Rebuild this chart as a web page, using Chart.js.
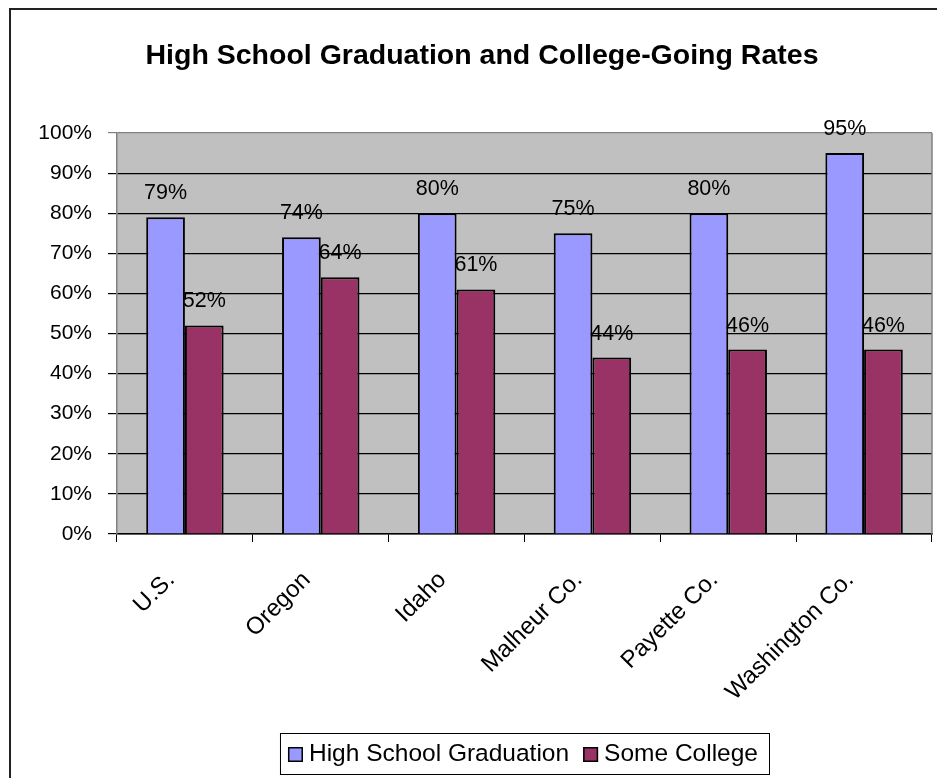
<!DOCTYPE html>
<html>
<head>
<meta charset="utf-8">
<script src="https://cdn.jsdelivr.net/npm/chart.js@4.4.0/dist/chart.umd.min.js"></script>
<style>
  html, body { margin: 0; padding: 0; background: #fff; }
  #wrap { width: 937px; height: 778px; }
</style>
</head>
<body>
<div id="wrap"><canvas id="myChart" width="937" height="778"></canvas></div>
<script>
// chart values
const categories = ['U.S.', 'Oregon', 'Idaho', 'Malheur Co.', 'Payette Co.', 'Washington Co.'];
const highSchool = [79, 74, 80, 75, 80, 95];
const someCollege = [52, 64, 61, 44, 46, 46];
const yTicks = [0, 10, 20, 30, 40, 50, 60, 70, 80, 90, 100];
const chartTitle = 'High School Graduation and College-Going Rates';

const FONT = "'Liberation Sans', Arial, sans-serif";

// grey plot area + outer frame
const backdrop = {
    id: 'backdrop',
    beforeDraw(chart) {
        const {ctx, chartArea: a} = chart;
        ctx.save();
        ctx.fillStyle = '#c0c0c0';
        ctx.fillRect(a.left, a.top, a.right - a.left, a.bottom - a.top);
        ctx.restore();
    },
    afterDraw(chart) {
        const {ctx, chartArea: a} = chart;
        ctx.save();
        // right edge of plot area
        ctx.strokeStyle = '#808080';
        ctx.lineWidth = 1.5;
        ctx.beginPath();
        ctx.moveTo(a.right, a.top);
        ctx.lineTo(a.right, a.bottom);
        ctx.stroke();
        // frame round the whole picture
        ctx.strokeStyle = '#222';
        ctx.lineWidth = 2;
        ctx.strokeRect(10, 9, 1000, 1000);
        // title
        ctx.fillStyle = '#000';
        ctx.font = 'bold 28.5px ' + FONT;
        ctx.textAlign = 'center';
        ctx.textBaseline = 'middle';
        ctx.fillText(chartTitle, 482, 56);
        ctx.restore();
    }
};

// percent labels over the bars
const barLabels = {
    id: 'barLabels',
    afterDatasetsDraw(chart) {
        const ctx = chart.ctx;
        ctx.save();
        ctx.fillStyle = '#000';
        ctx.font = '21.5px ' + FONT;
        ctx.textAlign = 'center';
        ctx.textBaseline = 'alphabetic';
        chart.data.datasets.forEach((ds, i) => {
            chart.getDatasetMeta(i).data.forEach((bar, j) => {
                ctx.fillText(ds.data[j] + '%', bar.x, bar.y - 18);
            });
        });
        ctx.restore();
    }
};

// boxed legend at the bottom
const boxLegend = {
    id: 'boxLegend',
    afterDraw(chart) {
        const ctx = chart.ctx;
        ctx.save();
        ctx.font = '24.5px ' + FONT;
        ctx.textBaseline = 'middle';
        const sq = 15, gapSq = 6, gapItem = 14, padL = 8, padR = 11;
        const items = chart.data.datasets.map(ds => ({
            label: ds.label, color: ds.backgroundColor, w: ctx.measureText(ds.label).width
        }));
        let total = padL + padR;
        items.forEach((it, i) => { total += sq + gapSq + it.w + (i ? gapItem : 0); });
        const right = 769, top = 733, bottom = 774;
        const left = right - total;
        const midY = (top + bottom) / 2 + 1;
        ctx.fillStyle = '#fff';
        ctx.fillRect(left, top, total, bottom - top);
        ctx.strokeStyle = '#000';
        ctx.lineWidth = 1;
        ctx.strokeRect(left + 0.5, top + 0.5, total, bottom - top);
        let x = left + padL;
        items.forEach((it, i) => {
            if (i) x += gapItem;
            ctx.fillStyle = it.color;
            ctx.fillRect(x, midY - sq / 2, sq, sq);
            ctx.strokeStyle = '#000';
            ctx.lineWidth = 1.5;
            ctx.strokeRect(x + 0.75, midY - sq / 2 + 0.75, sq - 1.5, sq - 1.5);
            x += sq + gapSq;
            ctx.fillStyle = '#000';
            ctx.fillText(it.label, x, midY);
            x += it.w;
        });
        ctx.restore();
    }
};

const data = {
    labels: categories,
    datasets: [{
        label: 'High School Graduation',
        data: highSchool,
        backgroundColor: '#9999ff',
        borderColor: '#000',
        borderWidth: 2,
        categoryPercentage: 0.57,
        barPercentage: 1.0
    }, {
        label: 'Some College',
        data: someCollege,
        backgroundColor: '#993366',
        borderColor: '#000',
        borderWidth: 2,
        categoryPercentage: 0.57,
        barPercentage: 1.0
    }]
};

const config = {
    type: 'bar',
    data: data,
    plugins: [backdrop, barLabels, boxLegend],
    options: {
        responsive: false,
        animation: false,
        devicePixelRatio: 1,
        layout: { padding: { top: 133, right: 5, left: 0, bottom: 0 } },
        plugins: {
            legend: { display: false },
            title: { display: false },
            tooltip: { enabled: false }
        },
        scales: {
            x: {
                afterFit: scale => { scale.height = 244; },
                grid: {
                    display: true,
                    drawOnChartArea: false,
                    offset: true,
                    color: '#000',
                    tickLength: 8
                },
                border: { color: '#000', width: 1.5 },
                ticks: {
                    color: '#000',
                    font: { family: FONT, size: 24 },
                    minRotation: 45,
                    maxRotation: 45,
                    padding: 24,
                    labelOffset: -14
                }
            },
            y: {
                min: 0,
                max: 100,
                afterFit: scale => { scale.width = 117; },
                afterBuildTicks: scale => { scale.ticks = yTicks.map(v => ({ value: v })); },
                grid: {
                    color: ctx => (ctx.tick && ctx.tick.value === 100) ? '#808080' : '#000',
                    lineWidth: 1.2,
                    tickLength: 9
                },
                border: { color: '#808080', width: 1.5 },
                ticks: {
                    color: '#000',
                    font: { family: FONT, size: 21 },
                    padding: 16,
                    callback: v => v + '%'
                }
            }
        }
    }
};

const myChart = new Chart(document.getElementById('myChart'), config);
</script>
</body>
</html>
